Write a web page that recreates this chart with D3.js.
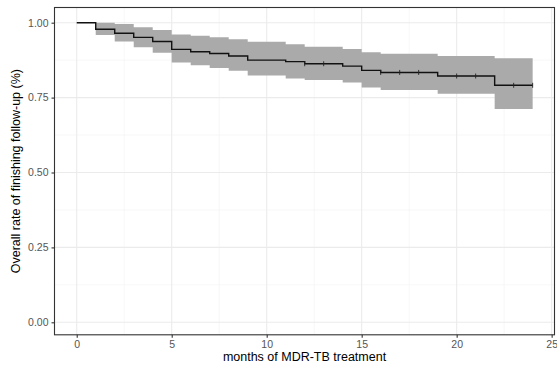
<!DOCTYPE html>
<html><head><meta charset="utf-8">
<script src="https://cdn.jsdelivr.net/npm/d3@7"></script>
<style>body{margin:0;background:#fff}svg{display:block}text{font-family:"Liberation Sans",Arial,sans-serif}</style>
</head><body><svg id="c" width="557" height="370"></svg>
<script>
// Kaplan-Meier estimate (step changes) with 95% CI
const times = [0, 1, 2, 3, 4, 5, 6, 7, 8, 9, 11, 12, 14, 15, 16, 19, 22, 24];
const surv  = [1.000, 0.978, 0.965, 0.951, 0.937, 0.911, 0.903, 0.897, 0.889, 0.875, 0.870, 0.863, 0.855, 0.841, 0.834, 0.822, 0.791, 0.791];
const upper = [1.000, 1.000, 0.996, 0.985, 0.976, 0.961, 0.956, 0.951, 0.945, 0.936, 0.928, 0.920, 0.912, 0.901, 0.896, 0.889, 0.881, 0.881];
const lower = [1.000, 0.959, 0.937, 0.918, 0.900, 0.867, 0.858, 0.849, 0.840, 0.824, 0.814, 0.809, 0.800, 0.784, 0.775, 0.763, 0.712, 0.712];
const censorTimes = [12, 13, 16, 17, 18, 20, 21, 23, 24];
const xTicks = [0, 5, 10, 15, 20, 25];
const yTicks = [0, 0.25, 0.5, 0.75, 1.0];
const xMinor = [2.5, 7.5, 12.5, 17.5, 22.5];
const yMinor = [0.125, 0.375, 0.625, 0.875];

const svg = d3.select("#c");
const L = 54.5, R = 554.5, T = 7.5, B = 334.8;
const x = d3.scaleLinear().domain([-1.17, 25.15]).range([L, R]);
const y = d3.scaleLinear().domain([-0.0417, 1.0507]).range([B, T]);

const data = times.map((t, i) => ({t, s: surv[i], u: upper[i], l: lower[i]}));

// grid
const g = svg.append("g");
g.selectAll(".xm").data(xMinor).join("line").attr("x1", d => x(d)).attr("x2", d => x(d)).attr("y1", T).attr("y2", B).attr("stroke", "#f2f2f2").attr("stroke-width", 0.6);
g.selectAll(".ym").data(yMinor).join("line").attr("y1", d => y(d)).attr("y2", d => y(d)).attr("x1", L).attr("x2", R).attr("stroke", "#f2f2f2").attr("stroke-width", 0.6);
g.selectAll(".xM").data(xTicks).join("line").attr("x1", d => x(d)).attr("x2", d => x(d)).attr("y1", T).attr("y2", B).attr("stroke", "#ebebeb").attr("stroke-width", 1.1);
g.selectAll(".yM").data(yTicks).join("line").attr("y1", d => y(d)).attr("y2", d => y(d)).attr("x1", L).attr("x2", R).attr("stroke", "#ebebeb").attr("stroke-width", 1.1);

// CI band
const area = d3.area().curve(d3.curveStepAfter).x(d => x(d.t)).y0(d => y(d.l)).y1(d => y(d.u));
svg.append("path").datum(data).attr("d", area).attr("fill", "#aaaaaa");

// KM line
const line = d3.line().curve(d3.curveStepAfter).x(d => x(d.t)).y(d => y(d.s));
svg.append("path").datum(data).attr("d", line).attr("fill", "none").attr("stroke", "#111").attr("stroke-width", 1.4);

// censor marks
const sAt = t => { let v = surv[0]; times.forEach((tt, i) => { if (tt <= t) v = surv[i]; }); return v; };
svg.selectAll(".cm").data(censorTimes).join("line")
  .attr("x1", d => x(d)).attr("x2", d => x(d))
  .attr("y1", d => y(sAt(d)) - 2.5).attr("y2", d => y(sAt(d)) + 2.5)
  .attr("stroke", "#222").attr("stroke-width", 0.9);

// panel border
svg.append("rect").attr("x", L).attr("y", T).attr("width", R - L).attr("height", B - T).attr("fill", "none").attr("stroke", "#333").attr("stroke-width", 1.1);

// axes
const xa = svg.append("g").attr("transform", `translate(0,${B})`).call(d3.axisBottom(x).tickValues(xTicks).tickSize(3).tickPadding(3).tickFormat(d3.format("d")));
const ya = svg.append("g").attr("transform", `translate(${L},0)`).call(d3.axisLeft(y).tickValues(yTicks).tickSize(3).tickPadding(3).tickFormat(d3.format(".2f")));
[xa, ya].forEach(a => {
  a.select(".domain").remove();
  a.selectAll(".tick line").attr("stroke", "#333").attr("stroke-width", 1.1);
  a.selectAll(".tick text").attr("fill", "#555").style("font-size", "10.5px").style("font-family", "Liberation Sans, Arial, sans-serif");
});

svg.append("text").attr("x", (L + R) / 2).attr("y", 361).attr("text-anchor", "middle").attr("fill", "#000").style("font-size", "12.5px").text("months of MDR-TB treatment");
svg.append("text").attr("transform", `translate(20,${(T + B) / 2}) rotate(-90)`).attr("text-anchor", "middle").attr("fill", "#000").style("font-size", "12.5px").text("Overall rate of finishing follow-up (%)");
</script></body></html>
